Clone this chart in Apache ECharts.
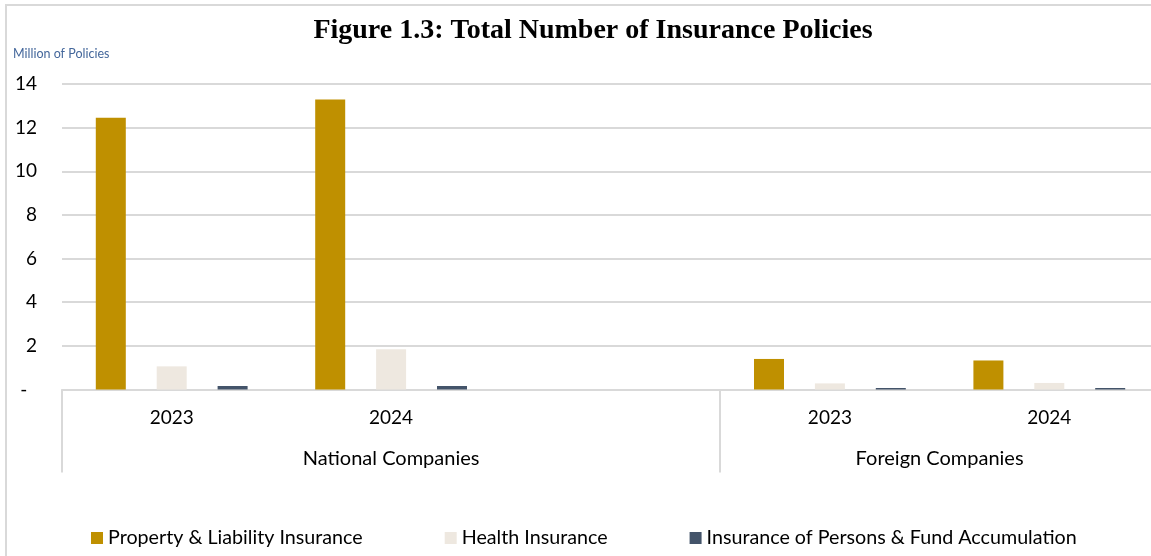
<!DOCTYPE html>
<html>
<head>
<meta charset="utf-8">
<script src="https://cdn.jsdelivr.net/npm/echarts@6/dist/echarts.min.js"></script>
<style>
html,body{margin:0;padding:0;background:#fff;overflow:hidden;width:1151px;height:556px;}
#chart{width:1160px;height:556px;}
</style>
</head>
<body>
<div id="chart"></div>
<script>
// ---- data ----
var titleText = 'Figure 1.3: Total Number of Insurance Policies';
var unitText = 'Million of Policies';
var years = ['2023', '2024', '', '2023', '2024'];
var groupNames = ['National Companies', 'Foreign Companies'];
var groupSpans = [3, 2];
var seriesNames = ['Property & Liability Insurance', 'Health Insurance', 'Insurance of Persons & Fund Accumulation'];
var propertyLiability = [12.45, 13.29, null, 1.40, 1.33];
var health = [1.06, 1.84, null, 0.28, 0.30];
var persons = [0.16, 0.16, null, 0.07, 0.07];
var yTicks = [0, 2, 4, 6, 8, 10, 12, 14];

// ---- build ----
var colors = ['#BF9000', '#EEE8E0', '#44546A'];
var font = 'Lato';
var groupCenters = [], groupEdges = [], acc = 0;
groupSpans.forEach(function (s) { groupEdges.push(acc); groupCenters.push(acc + s / 2); acc += s; });

var chart = echarts.init(document.getElementById('chart'), null, {renderer: 'canvas'});
var option = {
  backgroundColor: '#fff',
  animation: false,
  color: colors,
  graphic: [{
    type: 'rect', silent: true, z: -1,
    shape: {x: 6, y: 5, width: 1300, height: 700},
    style: {fill: 'none', stroke: '#d9d9d9', lineWidth: 2}
  }],
  title: [{
    text: titleText,
    left: 588, top: 12, textAlign: 'center',
    textStyle: {fontFamily: 'Liberation Serif', fontWeight: 'bold', fontSize: 28, color: '#000'}
  }, {
    text: unitText,
    left: 8, top: 42,
    textStyle: {fontFamily: font, fontWeight: 'normal', fontSize: 12.5, color: '#44679B'}
  }],
  legend: {
    left: 86, top: 523,
    itemWidth: 12, itemHeight: 12, itemGap: 82,
    icon: 'rect',
    textStyle: {fontFamily: font, fontSize: 19.7, color: '#000'},
    data: seriesNames
  },
  grid: {left: 62, top: 84, width: 1097, height: 305.5},
  xAxis: [{
    type: 'category',
    data: years,
    axisLine: {show: true, lineStyle: {color: '#d9d9d9', width: 2}},
    axisTick: {show: false},
    axisLabel: {fontFamily: font, fontSize: 19, color: '#000', margin: 19, interval: 0}
  }, {
    type: 'value',
    position: 'bottom',
    offset: 83,
    min: 0, max: acc,
    axisLine: {show: false},
    splitLine: {show: false},
    axisTick: {show: true, inside: true, length: 83, customValues: groupEdges,
      lineStyle: {color: '#d9d9d9', width: 2}},
    axisLabel: {show: true, inside: true, margin: 4, customValues: groupCenters,
      fontFamily: font, fontSize: 20, color: '#000',
      formatter: function (v) {
        var i = groupCenters.indexOf(v);
        return i >= 0 ? groupNames[i] : '';
      }}
  }],
  yAxis: {
    type: 'value',
    min: yTicks[0], max: yTicks[yTicks.length - 1], interval: 2,
    axisLine: {show: false},
    axisTick: {show: false},
    splitLine: {lineStyle: {color: '#d9d9d9', width: 2}},
    axisLabel: {fontFamily: font, fontSize: 19, color: '#000', margin: 25,
      formatter: function (v) { return v === 0 ? '-  ' : String(v); }}
  },
  series: [
    {name: seriesNames[0], type: 'bar', data: propertyLiability, barWidth: 30, barGap: '103%', xAxisIndex: 0},
    {name: seriesNames[1], type: 'bar', data: health, barWidth: 30, barGap: '103%', xAxisIndex: 0},
    {name: seriesNames[2], type: 'bar', data: persons, barWidth: 30, barGap: '103%', xAxisIndex: 0}
  ]
};
chart.setOption(option);
</script>
</body>
</html>
